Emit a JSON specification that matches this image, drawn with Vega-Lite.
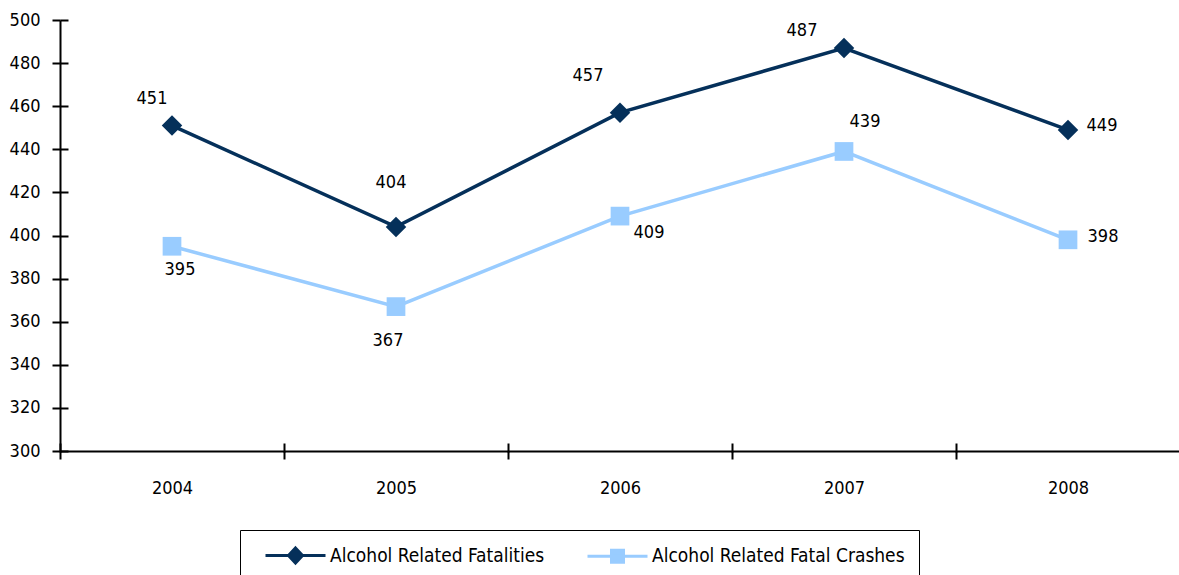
{
  "$schema": "https://vega.github.io/schema/vega-lite/v6.json",
  "width": 1120,
  "height": 431,
  "autosize": "none",
  "padding": {"left": 60, "top": 20, "right": 0, "bottom": 124},
  "background": "white",
  "config": {
    "view": {"stroke": null},
    "font": "DejaVu Sans Condensed, Liberation Sans",
    "text": {"font": "DejaVu Sans Condensed, Liberation Sans", "fontSize": 18, "color": "black"}
  },
  "data": {"values": [
    {"year": "2004", "series": "Alcohol Related Fatalities", "value": 451},
    {"year": "2005", "series": "Alcohol Related Fatalities", "value": 404},
    {"year": "2006", "series": "Alcohol Related Fatalities", "value": 457},
    {"year": "2007", "series": "Alcohol Related Fatalities", "value": 487},
    {"year": "2008", "series": "Alcohol Related Fatalities", "value": 449},
    {"year": "2004", "series": "Alcohol Related Fatal Crashes", "value": 395},
    {"year": "2005", "series": "Alcohol Related Fatal Crashes", "value": 367},
    {"year": "2006", "series": "Alcohol Related Fatal Crashes", "value": 409},
    {"year": "2007", "series": "Alcohol Related Fatal Crashes", "value": 439},
    {"year": "2008", "series": "Alcohol Related Fatal Crashes", "value": 398}
  ]},
  "resolve": {"axis": {"x": "independent", "y": "independent"}},
  "layer": [
    {
      "encoding": {
        "x": {
          "field": "year", "type": "ordinal",
          "scale": {"type": "band", "paddingInner": 0, "paddingOuter": 0},
          "axis": {
            "orient": "bottom", "title": null, "labelAngle": 0, "labelFontSize": 18, "labelColor": "black",
            "labelFont": "DejaVu Sans Condensed, Liberation Sans",
            "domainColor": "black", "domainWidth": 2, "tickColor": "black", "tickWidth": 2,
            "tickSize": 8, "tickBand": "extent", "labelPadding": 20, "grid": false
          }
        },
        "y": {
          "field": "value", "type": "quantitative",
          "scale": {"domain": [300, 500], "nice": false, "zero": false},
          "axis": {
            "orient": "left", "title": null, "values": [300, 320, 340, 360, 380, 400, 420, 440, 460, 480, 500],
            "labelFontSize": 18, "labelColor": "black", "labelFont": "DejaVu Sans Condensed, Liberation Sans",
            "domainColor": "black", "domainWidth": 2, "tickColor": "black", "tickWidth": 2,
            "tickSize": 8, "labelPadding": 12, "grid": false
          }
        }
      },
      "layer": [
        {
          "mark": {"type": "line", "strokeWidth": 3.5},
          "encoding": {
            "color": {
              "field": "series", "type": "nominal",
              "scale": {"domain": ["Alcohol Related Fatalities", "Alcohol Related Fatal Crashes"], "range": ["#05305a", "#99ccff"]},
              "legend": {
                "title": null, "orient": "none", "legendX": 180, "legendY": 510,
                "direction": "horizontal", "columns": 2, "strokeColor": "black", "padding": 14,
                "columnPadding": 31, "labelFontSize": 19, "labelFont": "DejaVu Sans Condensed, Liberation Sans", "labelColor": "black",
                "symbolSize": 400, "symbolStrokeWidth": 3, "symbolOffset": 30, "labelOffset": 23, "labelLimit": 400,
                "encode": {"symbols": {"update": {
                  "shape": {"signal": "datum.value === 'Alcohol Related Fatalities' ? 'M-3,0H3M0,-0.75L0.7,0L0,0.75L-0.7,0Z' : 'M-3,0H3M-0.6,-0.6H0.6V0.6H-0.6Z'"},
                  "fill": {"signal": "datum.value === 'Alcohol Related Fatalities' ? '#05305a' : '#99ccff'"},
                  "stroke": {"signal": "datum.value === 'Alcohol Related Fatalities' ? '#05305a' : '#99ccff'"},
                  "strokeWidth": {"value": 3},
                  "opacity": {"value": 1},
                  "fillOpacity": {"value": 1}
                }}}
              }
            }
          }
        },
        {
          "transform": [{"filter": "datum.series === 'Alcohol Related Fatalities'"}],
          "mark": {"type": "point", "shape": "diamond", "filled": true, "opacity": 1, "size": 420, "color": "#05305a"}
        },
        {
          "transform": [{"filter": "datum.series === 'Alcohol Related Fatal Crashes'"}],
          "mark": {"type": "point", "shape": "square", "filled": true, "opacity": 1, "size": 350, "color": "#99ccff"}
        },
        {"transform": [{"filter": "datum.series === 'Alcohol Related Fatalities' && datum.year === '2004'"}], "mark": {"type": "text", "dx": -20, "dy": -27}, "encoding": {"text": {"field": "value"}}},
        {"transform": [{"filter": "datum.series === 'Alcohol Related Fatalities' && datum.year === '2005'"}], "mark": {"type": "text", "dx": -5, "dy": -44}, "encoding": {"text": {"field": "value"}}},
        {"transform": [{"filter": "datum.series === 'Alcohol Related Fatalities' && datum.year === '2006'"}], "mark": {"type": "text", "dx": -32, "dy": -37}, "encoding": {"text": {"field": "value"}}},
        {"transform": [{"filter": "datum.series === 'Alcohol Related Fatalities' && datum.year === '2007'"}], "mark": {"type": "text", "dx": -42, "dy": -17}, "encoding": {"text": {"field": "value"}}},
        {"transform": [{"filter": "datum.series === 'Alcohol Related Fatalities' && datum.year === '2008'"}], "mark": {"type": "text", "dx": 34, "dy": -4}, "encoding": {"text": {"field": "value"}}},
        {"transform": [{"filter": "datum.series === 'Alcohol Related Fatal Crashes' && datum.year === '2004'"}], "mark": {"type": "text", "dx": 8, "dy": 24}, "encoding": {"text": {"field": "value"}}},
        {"transform": [{"filter": "datum.series === 'Alcohol Related Fatal Crashes' && datum.year === '2005'"}], "mark": {"type": "text", "dx": -8, "dy": 34}, "encoding": {"text": {"field": "value"}}},
        {"transform": [{"filter": "datum.series === 'Alcohol Related Fatal Crashes' && datum.year === '2006'"}], "mark": {"type": "text", "dx": 29, "dy": 17}, "encoding": {"text": {"field": "value"}}},
        {"transform": [{"filter": "datum.series === 'Alcohol Related Fatal Crashes' && datum.year === '2007'"}], "mark": {"type": "text", "dx": 21, "dy": -29}, "encoding": {"text": {"field": "value"}}},
        {"transform": [{"filter": "datum.series === 'Alcohol Related Fatal Crashes' && datum.year === '2008'"}], "mark": {"type": "text", "dx": 35, "dy": -3}, "encoding": {"text": {"field": "value"}}}
      ]
    },
    {
      "mark": {"type": "point", "opacity": 0},
      "encoding": {
        "x": {
          "field": "year", "type": "ordinal",
          "axis": {
            "orient": "bottom", "offset": -8, "title": null, "labels": false, "domain": false,
            "tickColor": "black", "tickWidth": 2, "tickSize": 9, "tickBand": "extent", "grid": false
          }
        },
        "y": {
          "field": "value", "type": "quantitative",
          "axis": {
            "orient": "left", "offset": -8, "title": null, "labels": false, "domain": false,
            "values": [300, 320, 340, 360, 380, 400, 420, 440, 460, 480, 500],
            "tickColor": "black", "tickWidth": 2, "tickSize": 8, "grid": false
          }
        }
      }
    }
  ]
}
